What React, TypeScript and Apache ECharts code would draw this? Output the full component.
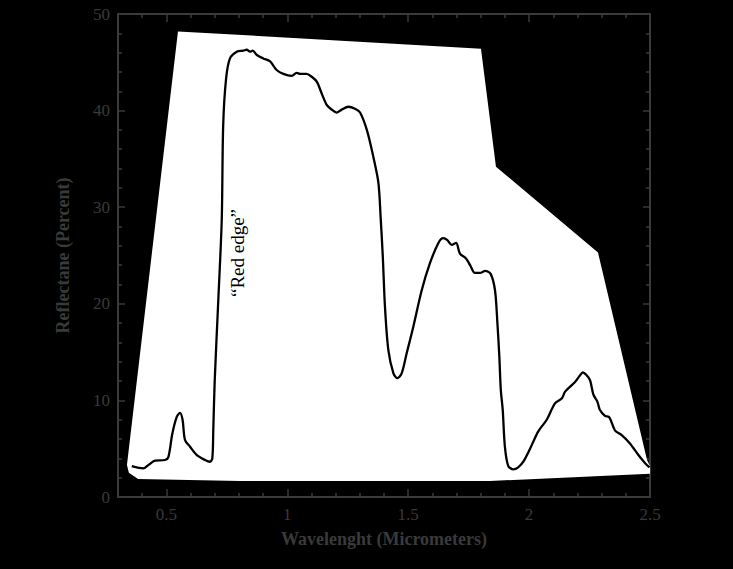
import React, { useEffect, useRef } from "react";
import * as echarts from "echarts";

// Reflectance spectrum of vegetation (wavelength in micrometers, reflectance in percent)
const wavelength = [
  0.357, 0.405, 0.425, 0.453, 0.494, 0.508, 0.525, 0.543, 0.556, 0.567, 0.577, 0.598,
  0.625, 0.66, 0.68, 0.69, 0.694, 0.70, 0.715, 0.729, 0.735, 0.747, 0.763, 0.791,
  0.818, 0.832, 0.846, 0.857, 0.874, 0.901, 0.929, 0.956, 0.984, 1.018, 1.039, 1.053,
  1.08, 1.101, 1.122, 1.142, 1.163, 1.184, 1.204, 1.225, 1.252, 1.28, 1.301, 1.329,
  1.356, 1.377, 1.386, 1.395, 1.404, 1.418, 1.439, 1.455, 1.473, 1.494, 1.521, 1.556,
  1.59, 1.625, 1.645, 1.662, 1.68, 1.698, 1.714, 1.739, 1.756, 1.776, 1.797, 1.818,
  1.841, 1.859, 1.869, 1.877, 1.883, 1.891, 1.9, 1.914, 1.935, 1.955, 1.976, 2.004,
  2.038, 2.073, 2.107, 2.135, 2.149, 2.169, 2.19, 2.211, 2.222, 2.238, 2.252, 2.266,
  2.282, 2.293, 2.314, 2.332, 2.355, 2.383, 2.417, 2.452, 2.48, 2.498,
];
const reflectance = [
  3.2, 2.97, 3.3, 3.76, 3.83, 4.1, 6.6, 8.3, 8.7, 8.0, 5.9, 5.2,
  4.35, 3.83, 3.65, 4.0, 6.9, 12.1, 20.5, 28.7, 38.5, 43.3, 45.4, 46.1,
  46.2, 46.3, 46.1, 46.2, 45.75, 45.4, 45.1, 44.2, 43.8, 43.6, 43.9, 43.8,
  43.8, 43.5, 43.0, 41.8, 40.6, 40.1, 39.8, 40.1, 40.4, 40.2, 39.8, 38.0,
  35.2, 32.5, 29.0, 24.9, 19.7, 15.2, 12.8, 12.3, 12.8, 14.9, 17.6, 21.4,
  24.2, 26.3, 26.8, 26.6, 26.1, 26.3, 25.2, 24.7, 24.0, 23.2, 23.2, 23.4,
  23.1, 21.4, 18.0, 14.5, 11.1, 9.0, 5.2, 3.2, 2.86, 3.07, 3.65, 5.0,
  6.8, 8.0, 9.7, 10.2, 10.9, 11.4, 11.9, 12.6, 12.9, 12.6, 12.1, 10.6,
  9.9, 9.0, 8.4, 8.25, 6.9, 6.4, 5.55, 4.35, 3.5, 3.07,
];

// White backdrop polygon (data coordinates)
const polyX = [0.548, 1.801, 1.863, 2.285, 2.488, 2.5, 2.5, 1.838, 0.805, 0.383, 0.345, 0.337];
const polyY = [48.2, 46.4, 34.2, 25.3, 3.8, 3.2, 2.4, 1.66, 1.66, 1.86, 2.5, 3.3];

const xTickLabels = [0.5, 1, 1.5, 2, 2.5];
const xMinorTicks = [0.4, 0.6, 0.7, 0.8, 0.9, 1.1, 1.2, 1.3, 1.4, 1.6, 1.7, 1.8, 1.9, 2.1, 2.2, 2.3, 2.4];
const yTickLabels = [0, 10, 20, 30, 40, 50];

const AXIS_COLOR = "#3a3a3a";
const FONT = "'Liberation Serif', 'DejaVu Serif', serif";

export default function App() {
  const ref = useRef<HTMLDivElement>(null);

  useEffect(() => {
    if (!ref.current) return;
    const chart = echarts.init(ref.current, undefined, { renderer: "svg" });

    const xBase = (pos: "bottom" | "top", showLabel: boolean, ticks: number[], len: number, showLine: boolean) => ({
      type: "value" as const,
      position: pos,
      min: 0.3,
      max: 2.5,
      axisLine: { show: showLine, onZero: false, lineStyle: { color: AXIS_COLOR, width: 2 } },
      axisTick: { show: true, inside: true, length: len, customValues: ticks, lineStyle: { color: AXIS_COLOR, width: 1.5 } },
      axisLabel: {
        show: showLabel,
        customValues: xTickLabels,
        color: AXIS_COLOR,
        fontFamily: FONT,
        fontSize: 17,
        margin: 9,
        formatter: (v: number) => String(v),
      },
      splitLine: { show: false },
    });

    const yBase = (pos: "left" | "right", showLabel: boolean) => ({
      type: "value" as const,
      position: pos,
      min: 0,
      max: 50,
      interval: 10,
      axisLine: { show: true, onZero: false, lineStyle: { color: AXIS_COLOR, width: 2 } },
      axisTick: { show: true, inside: true, length: 7, lineStyle: { color: AXIS_COLOR, width: 1.5 } },
      minorTick: { show: true, splitNumber: 5, length: 4, lineStyle: { color: AXIS_COLOR, width: 1.5 } },
      axisLabel: {
        show: showLabel,
        color: AXIS_COLOR,
        fontFamily: FONT,
        fontSize: 17,
        margin: 8,
        customValues: yTickLabels,
      },
      splitLine: { show: false },
    });

    chart.setOption({
      animation: false,
      backgroundColor: "#000",
      grid: { left: 118, top: 14, width: 532, height: 483, containLabel: false },
      xAxis: [
        {
          ...xBase("bottom", true, xTickLabels, 8, true),
          name: "Wavelenght (Micrometers)",
          nameLocation: "middle",
          nameGap: 33,
          nameTextStyle: { color: AXIS_COLOR, fontFamily: FONT, fontSize: 18, fontWeight: "bold" },
        },
        xBase("bottom", false, xMinorTicks, 4, false),
        xBase("top", false, xTickLabels, 8, true),
        xBase("top", false, xMinorTicks, 4, false),
      ],
      yAxis: [
        {
          ...yBase("left", true),
          name: "Reflectane (Percent)",
          nameLocation: "middle",
          nameGap: 46,
          nameTextStyle: { color: AXIS_COLOR, fontFamily: FONT, fontSize: 18, fontWeight: "bold" },
        },
        yBase("right", false),
      ],
      series: [
        {
          type: "custom",
          xAxisIndex: 0,
          yAxisIndex: 0,
          z: 1,
          silent: true,
          data: polyX.map((x, i) => [x, polyY[i]]),
          renderItem: (params: any, api: any) => {
            if (params.dataIndex !== 0) return null;
            const pts = polyX.map((x, i) => api.coord([x, polyY[i]]));
            return { type: "polygon", shape: { points: pts }, style: { fill: "#ffffff" } };
          },
        },
        {
          type: "line",
          xAxisIndex: 0,
          yAxisIndex: 0,
          z: 3,
          data: wavelength.map((x, i) => [x, reflectance[i]]),
          smooth: 0.3,
          showSymbol: false,
          lineStyle: { color: "#000", width: 2.3 },
        },
      ],
      graphic: [
        {
          type: "text",
          x: 237,
          y: 253,
          rotation: Math.PI / 2,
          z: 10,
          style: {
            text: "\u201CRed edge\u201D",
            fill: "#000",
            font: `19px ${FONT}`,
            align: "center",
            verticalAlign: "middle",
          },
        },
      ],
    });

    return () => chart.dispose();
  }, []);

  return (
    <div
      ref={ref}
      style={{ position: "fixed", left: 0, top: 0, width: 733, height: 569, background: "#000" }}
    />
  );
}
